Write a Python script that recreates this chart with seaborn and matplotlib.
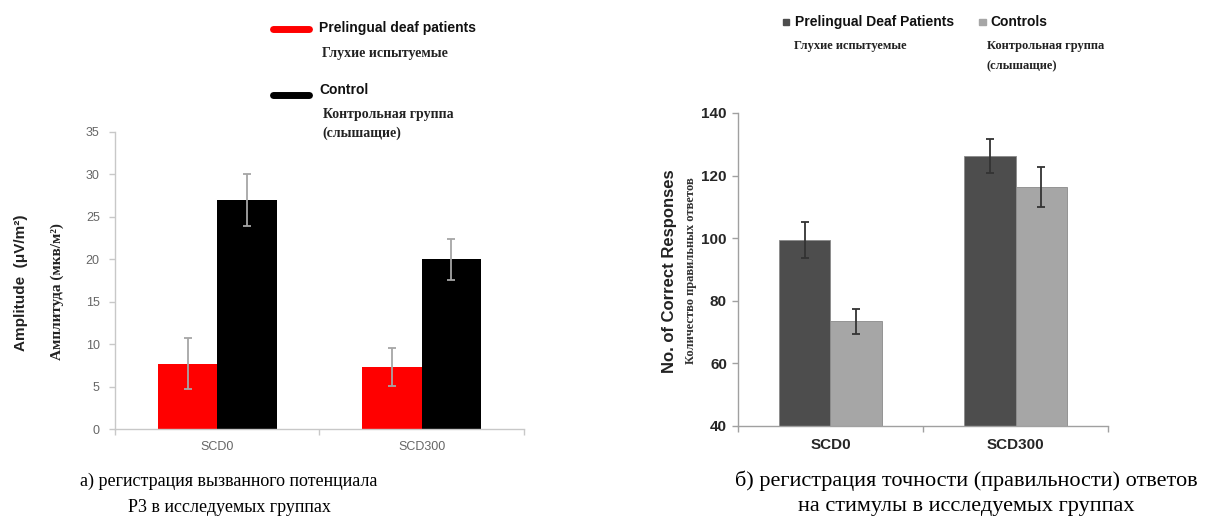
import numpy as np
import pandas as pd
import matplotlib
matplotlib.use("Agg")
import matplotlib.pyplot as plt
from matplotlib.lines import Line2D
from matplotlib.patches import Rectangle
from matplotlib.ticker import FixedLocator, NullFormatter
import seaborn as sns

# ---- data -------------------------------------------------------------
conditions = ["SCD0", "SCD300"]

# (a) P3 amplitude
p3_groups = ["Prelingual deaf patients", "Control"]
p3_deaf = [7.7, 7.3]
p3_deaf_err = [3.0, 2.2]
p3_control = [27.0, 20.0]
p3_control_err = [3.1, 2.4]

# (b) number of correct responses
acc_groups = ["Prelingual Deaf Patients", "Controls"]
acc_deaf = [99.4, 126.3]
acc_deaf_err = [5.7, 5.4]
acc_control = [73.5, 116.4]
acc_control_err = [4.0, 6.3]

left_ticks = [0, 5, 10, 15, 20, 25, 30, 35]
right_ticks = [40, 60, 80, 100, 120, 140]

sns.set_theme(style="white")
plt.rcParams["font.family"] = ["Liberation Sans", "DejaVu Sans"]
serif = ["Liberation Serif", "DejaVu Serif"]

fig = plt.figure(figsize=(12.18, 5.2), dpi=100)
ax1 = fig.add_axes([0.0944, 0.175, 0.3358, 0.5712])
ax2 = fig.add_axes([0.6059, 0.1808, 0.3038, 0.6019])


def long_frame(groups, a, b):
    return pd.DataFrame({
        "condition": conditions * 2,
        "group": [groups[0]] * 2 + [groups[1]] * 2,
        "value": list(a) + list(b),
    })


def add_errors(ax, errs_by_hue, color, capsize, lw):
    for cont, (vals, errs) in zip(ax.containers, errs_by_hue):
        xs = [p.get_x() + p.get_width() / 2 for p in cont.patches]
        ax.errorbar(xs, vals, yerr=errs, fmt="none", ecolor=color,
                    elinewidth=lw, capsize=capsize, capthick=lw, zorder=5)


def excel_axes(ax, spine_color):
    sns.despine(ax=ax)
    for s in ("left", "bottom"):
        ax.spines[s].set_color(spine_color)
        ax.spines[s].set_linewidth(1.0)
    ax.set_xlim(-0.5, 1.5)
    ax.xaxis.set_minor_locator(FixedLocator([-0.5, 0.5, 1.5]))
    ax.xaxis.set_minor_formatter(NullFormatter())
    ax.tick_params(axis="x", which="major", length=0, pad=9)
    ax.tick_params(axis="x", which="minor", length=4, width=1,
                   color=spine_color, direction="out", bottom=True)
    ax.tick_params(axis="y", length=4, width=1, color=spine_color,
                   direction="out", left=True)
    ax.set_xlabel("")
    ax.set_ylabel("")
    ax.grid(False)


# ---- (a) --------------------------------------------------------------
df1 = long_frame(p3_groups, p3_deaf, p3_control)
sns.barplot(data=df1, x="condition", y="value", hue="group",
            palette=["#ff0000", "#000000"], width=0.58, errorbar=None,
            saturation=1, legend=False, ax=ax1, edgecolor="none")
add_errors(ax1, [(p3_deaf, p3_deaf_err), (p3_control, p3_control_err)],
           "#a6a6a6", 3, 1.3)
excel_axes(ax1, "#c8c8c8")
ax1.set_ylim(0, 35)
ax1.set_yticks(left_ticks)
ax1.tick_params(axis="both", labelsize=9, labelcolor="#666666")
ax1.tick_params(axis="y", pad=7)

fig.text(0.017, 0.456, "Amplitude  (μV/m²)", rotation=90, ha="center",
         va="center", fontsize=11, fontweight="bold", color="#222222")
fig.text(0.047, 0.440, "Амплитуда (мкв/м²)", rotation=90, ha="center",
         va="center", fontsize=11, fontweight="bold", color="#222222",
         family=serif)

# legend of (a)
for y, col in ((0.944, "#ff0000"), (0.817, "#000000")):
    fig.add_artist(Line2D([0.224, 0.254], [y, y], color=col, lw=5,
                          transform=fig.transFigure))
fig.text(0.262, 0.946, p3_groups[0], fontsize=10, fontweight="bold",
         va="center", color="#111111")
fig.text(0.264, 0.898, "Глухие испытуемые", fontsize=10, fontweight="bold",
         va="center", color="#222222", family=serif)
fig.text(0.262, 0.827, p3_groups[1], fontsize=10, fontweight="bold",
         va="center", color="#111111")
fig.text(0.265, 0.779, "Контрольная группа", fontsize=10, fontweight="bold",
         va="center", color="#222222", family=serif)
fig.text(0.265, 0.743, "(слышащие)", fontsize=10, fontweight="bold",
         va="center", color="#222222", family=serif)

# ---- (b) --------------------------------------------------------------
df2 = long_frame(acc_groups, acc_deaf, acc_control)
sns.barplot(data=df2, x="condition", y="value", hue="group",
            palette=["#4d4d4d", "#a6a6a6"], width=0.56, errorbar=None,
            saturation=1, legend=False, ax=ax2, edgecolor="#8a8a8a",
            linewidth=0.6)
add_errors(ax2, [(acc_deaf, acc_deaf_err), (acc_control, acc_control_err)],
           "#333333", 3, 1.3)
excel_axes(ax2, "#a0a0a0")
ax2.set_ylim(40, 140)
ax2.set_yticks(right_ticks)
ax2.tick_params(axis="both", labelsize=11, labelcolor="#262626")
for lab in ax2.get_xticklabels() + ax2.get_yticklabels():
    lab.set_fontweight("bold")
ax2.tick_params(axis="y", pad=4)

fig.text(0.550, 0.479, "No. of Correct Responses", rotation=90, ha="center",
         va="center", fontsize=12, fontweight="bold", color="#222222")
fig.text(0.5675, 0.479, "Количество правильных ответов", rotation=90,
         ha="center", va="center", fontsize=9, fontweight="bold",
         color="#333333", family=serif)

# legend of (b)
for x, col in ((0.6425, "#4d4d4d"), (0.8040, "#a6a6a6")):
    fig.add_artist(Rectangle((x, 0.951), 0.0055, 0.013, color=col,
                             transform=fig.transFigure))
fig.text(0.6525, 0.957, acc_groups[0], fontsize=10, fontweight="bold",
         va="center", color="#111111")
fig.text(0.8130, 0.957, acc_groups[1], fontsize=10, fontweight="bold",
         va="center", color="#111111")
fig.text(0.652, 0.911, "Глухие испытуемые", fontsize=9, fontweight="bold",
         va="center", color="#222222", family=serif)
fig.text(0.810, 0.911, "Контрольная группа", fontsize=9, fontweight="bold",
         va="center", color="#222222", family=serif)
fig.text(0.810, 0.873, "(слышащие)", fontsize=9, fontweight="bold",
         va="center", color="#222222", family=serif)

# ---- captions ---------------------------------------------------------
fig.text(0.188, 0.075, "а) регистрация вызванного потенциала", ha="center",
         va="center", fontsize=13, family=serif, color="#000000")
fig.text(0.188, 0.025, "Р3 в исследуемых группах", ha="center",
         va="center", fontsize=13, family=serif, color="#000000")
fig.text(0.793, 0.075, "б) регистрация точности (правильности) ответов",
         ha="center", va="center", fontsize=16, family=serif, color="#000000")
fig.text(0.793, 0.025, "на стимулы в исследуемых группах", ha="center",
         va="center", fontsize=16, family=serif, color="#000000")

fig.savefig("out.png", dpi=100, facecolor="white")
